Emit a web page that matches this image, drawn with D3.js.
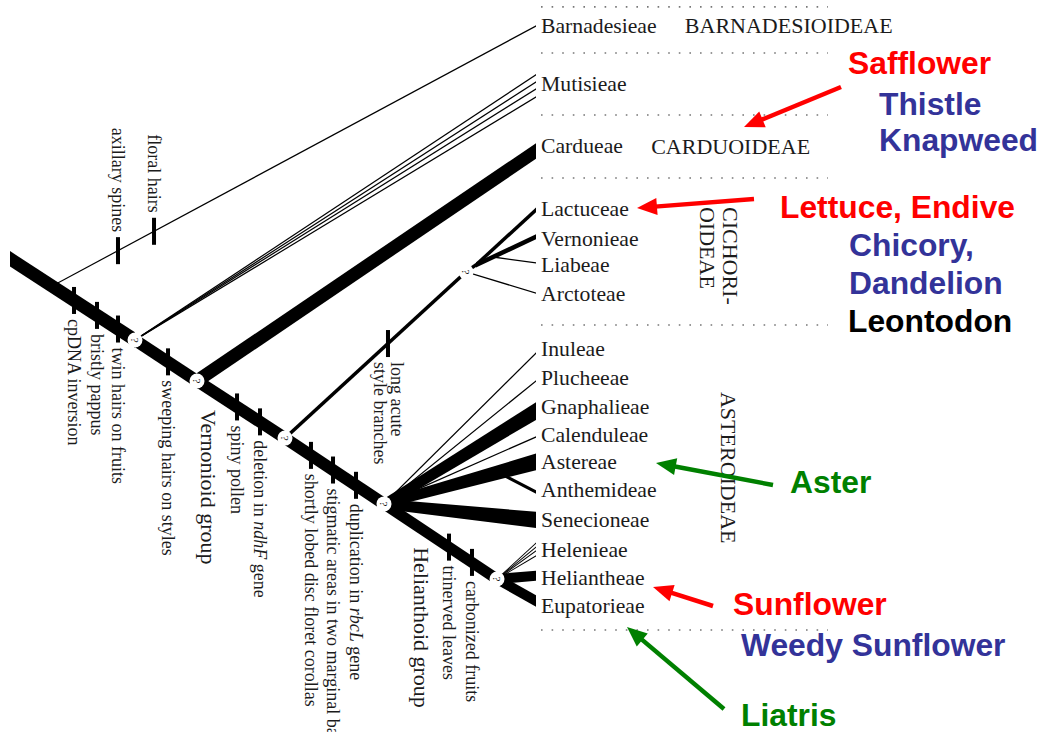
<!DOCTYPE html>
<html><head><meta charset="utf-8">
<script src="https://cdn.jsdelivr.net/npm/d3@7"></script>
<style>
html,body{margin:0;padding:0;background:#fff;}
svg{display:block;}
</style></head>
<body><svg id="chart" width="1040" height="732"></svg>
<script>
// ================= DATA =================
// Terminal tribes (top to bottom) and their row positions
const tribes = ["Barnadesieae","Mutisieae","Cardueae","Lactuceae","Vernonieae","Liabeae","Arctoteae",
  "Inuleae","Plucheeae","Gnaphalieae","Calenduleae","Astereae","Anthemideae","Senecioneae",
  "Helenieae","Heliantheae","Eupatorieae"];
const tribeRows = [0,2.0,4.14,6.31,7.34,8.24,9.24,11.14,12.14,13.14,14.1,15.03,16.0,17.03,18.07,19.03,20.0];
const tribeDepth = 100;

// Internal nodes (depth along the tree, row)
const nodeIds   = ["root","Nb","N1","N2","N3","N4","N5","Ncq","Nc","Nvl","Naa"];
const nodeDepth = [0, 7.98, 23.76, 35.55, 52.28, 71.10, 92.59, 86.69, 88.59, 91.83, 92.78];
const nodeRow   = [8.03, 8.97, 10.83, 12.24, 14.21, 16.48, 19.07, 8.48, 8.24, 7.965, 15.39];
const uncertainNodes = ["N1","N2","N3","N4","N5","Ncq"];   // nodes marked "?"

// Branches: [from, to, weight at start, weight at end, row offset of tip end]
const edges = [
  ["root","N1",13,13,0], ["N1","N2",12,12,0], ["N2","N3",12,12,0], ["N3","N4",12,12,0], ["N4","N5",11,11,0],
  ["Nb","Barnadesieae",1.2,1.2,0],
  ["N1","Mutisieae",1.2,1.2,-0.32], ["N1","Mutisieae",1.2,1.2,-0.07],
  ["N1","Mutisieae",1.2,1.2,0.17],  ["N1","Mutisieae",1.2,1.2,0.45],
  ["N2","Cardueae",13,13,0.17],
  ["N3","Ncq",3.5,3.5,0], ["Ncq","Nc",3.5,3.5,0],
  ["Nc","Lactuceae",3.5,3.5,0.03], ["Nc","Vernonieae",4.5,4.5,-0.07],
  ["Nvl","Liabeae",1.3,1.3,-0.07], ["Ncq","Arctoteae",1.3,1.3,-0.03],
  ["N4","Inuleae",1.2,1.2,0.14], ["N4","Plucheeae",1.2,1.2,0.1],
  ["N4","Gnaphalieae",9,15,0.14], ["N4","Calenduleae",1.3,1.3,0.07],
  ["N4","Astereae",9,16,0], ["Naa","Anthemideae",3,3,0.07], ["N4","Senecioneae",10,16,0],
  ["N5","Helenieae",1,1,-0.24], ["N5","Helenieae",1,1,-0.1], ["N5","Helenieae",1,1,0.03], ["N5","Helenieae",1,1,0.2],
  ["N5","Heliantheae",10,10,-0.07], ["N5","Eupatorieae",10,10,-0.17]
];

// Character changes (synapomorphies) on branches
const characters = ["cpDNA inversion","bristly pappus","twin hairs on fruits","sweeping hairs on styles",
  "spiny pollen","deletion in _ndhF_ gene","shortly lobed disc floret corollas",
  "stigmatic areas in two marginal bands","duplication in _rbcL_ gene","trinerved leaves","carbonized fruits",
  "long acute|style branches","axillary spines","floral hairs"];
const characterEdge = [["root","N1"],["root","N1"],["root","N1"],["N1","N2"],["N2","N3"],["N2","N3"],
  ["N3","N4"],["N3","N4"],["N3","N4"],["N4","N5"],["N4","N5"],["N3","Ncq"],["Nb","Barnadesieae"],["Nb","Barnadesieae"]];
const characterDepth = [12.17,16.54,20.53,30.04,43.16,47.53,57.22,61.41,65.78,83.46,87.83,71.86,20.53,27.38];
const characterSide = ["below","below","below","below","below","below","below","below","below","below","below","below","above","above"];

// Informal groups
const groups = ["Vernonioid group","Helianthoid group"];
const groupDepth = [37.64, 78.14];
const groupRow = [13.24, 17.97];

// Subfamilies and separators
const subfamilies = ["BARNADESIOIDEAE","CARDUOIDEAE","CICHORI-|OIDEAE","ASTEROIDEAE"];
const subfamilyBreaks = [-0.66, 0.93, 3.07, 5.24, 10.31, 20.83];

// Common names of related plants
const commonNames = ["Safflower","Thistle","Knapweed","Lettuce, Endive","Chicory,","Dandelion","Leontodon",
  "Aster","Sunflower","Weedy Sunflower","Liatris"];
const commonKind = ["crop","weed","weed","crop","weed","weed","other","ornamental","crop","weed","ornamental"];
const arrowNames = ["Safflower","Lettuce, Endive","Aster","Sunflower","Liatris"];

// ================= LAYOUT / STYLE =================
const W = 1040, H = 732;
const x = d3.scaleLinear().domain([0,100]).range([10,536]);
const y = d3.scaleLinear().domain([0,20]).range([26,606]);
const serif = "'Liberation Serif','Times New Roman',serif";
const sans = "'Liberation Sans',Arial,sans-serif";
const ink = "#1b1b1b";
const kindColor = {crop:"#ff0000", weed:"#333399", other:"#000000", ornamental:"#008000"};
const namePos = { // baseline positions in px
  "Safflower":[848,74], "Thistle":[879,115], "Knapweed":[879,151], "Lettuce, Endive":[780,218],
  "Chicory,":[849,256], "Dandelion":[849,294], "Leontodon":[848,332], "Aster":[790,493],
  "Sunflower":[733,615], "Weedy Sunflower":[741,656], "Liatris":[741,726]};
const arrowPos = { // [tailX, tailY, tipX, tipY]
  "Safflower":[841,87,744,127], "Lettuce, Endive":[754,199,637,208], "Aster":[773,485,656,463],
  "Sunflower":[713,606,653,587], "Liatris":[724,709,627,627]};
const subfamilyLayout = [
  {depth:128.3, row:0, rot:false}, {depth:121.9, row:4.14, rot:false},
  {depth:134.7, row:6.24, rot:true}, {depth:136.5, row:12.62, rot:true}];

const svg = d3.select("#chart");
svg.append("rect").attr("width",W).attr("height",H).attr("fill","#fff");

function pos(id){
  const i = nodeIds.indexOf(id);
  if (i >= 0) return [nodeDepth[i], nodeRow[i]];
  return [tribeDepth, tribeRows[tribes.indexOf(id)]];
}
const line = d3.line();
function wedge(x0,y0,x1,y1,w0,w1){
  const dx = x1-x0, dy = y1-y0, L = Math.hypot(dx,dy);
  const k = L/Math.abs(dx);
  const h0 = w0/2*k, h1 = w1/2*k;
  return line([[x0,y0-h0],[x1,y1-h1],[x1,y1+h1],[x0,y0+h0]]) + "Z";
}

// separators
const gSep = svg.append("g");
subfamilyBreaks.forEach(r => {
  gSep.append("line").attr("x1", x(tribeDepth)+5).attr("x2", 828)
    .attr("y1", y(r)).attr("y2", y(r))
    .attr("stroke","#777").attr("stroke-width",1.6).attr("stroke-dasharray","1.6 9");
});

// branches
const gEdges = svg.append("g");
edges.forEach(([f,t,w0,w1,s]) => {
  const [d0,r0] = pos(f); let [d1,r1] = pos(t);
  if (nodeIds.indexOf(t) < 0) r1 += s;
  gEdges.append("path").attr("d", wedge(x(d0),y(r0),x(d1),y(r1),w0,w1)).attr("fill","#000");
});

// character ticks
function rowOnEdge(f,t,d){
  const [d0,r0] = pos(f); let [d1,r1] = pos(t);
  const e = edges.find(e => e[0]===f && e[1]===t);
  if (e && nodeIds.indexOf(t) < 0) r1 += e[4];
  return r0 + (d-d0)/(d1-d0)*(r1-r0);
}
function addRichText(sel, str){
  str.split("_").forEach((part,i) => {
    if (!part) return;
    sel.append("tspan").attr("font-style", i%2 ? "italic" : "normal").text(part);
  });
}
const gTicks = svg.append("g");
characters.forEach((c,i) => {
  const [f,t] = characterEdge[i];
  const px = x(characterDepth[i]), py = y(rowOnEdge(f,t,characterDepth[i]));
  gTicks.append("rect").attr("x",px-2).attr("y",py-13.5).attr("width",4).attr("height",27).attr("fill","#000");
  const lines = c.split("|");
  const below = characterSide[i] === "below";
  const y0 = below ? py+13.5+5 : py-13.5-5;
  lines.forEach((ln,j) => {
    const off = (j-(lines.length-1)/2)*17;
    const tx = gTicks.append("text")
      .attr("transform",`translate(${px},${y0}) rotate(90)`)
      .attr("y", off).attr("dy","0.32em")
      .attr("text-anchor", below ? "start" : "end")
      .attr("font-family",serif).attr("font-size",18).attr("fill",ink);
    addRichText(tx, ln);
  });
});

// group labels
groups.forEach((g,i) => {
  svg.append("text").attr("transform",`translate(${x(groupDepth[i])},${y(groupRow[i])}) rotate(90)`)
    .attr("dy","0.32em").attr("font-family",serif).attr("font-size",22).attr("fill",ink).text(g);
});

// "?" marks on uncertain nodes
const gQ = svg.append("g");
uncertainNodes.forEach(id => {
  const [d,r] = pos(id);
  gQ.append("circle").attr("cx",x(d)).attr("cy",y(r)).attr("r",7.5).attr("fill","#fff");
  gQ.append("text").attr("transform",`translate(${x(d)},${y(r)}) rotate(90)`)
    .attr("text-anchor","middle").attr("dy","0.35em")
    .attr("font-family",serif).attr("font-size",11).attr("fill",ink).text("?");
});

// tribe labels
svg.append("g").selectAll("text").data(tribes).join("text")
  .attr("x", x(tribeDepth)+5).attr("y",(d,i)=>y(tribeRows[i])).attr("dy","0.34em")
  .attr("font-family",serif).attr("font-size",21.7).attr("fill",ink).text(d=>d);

// subfamily labels
subfamilies.forEach((s,i) => {
  const L = subfamilyLayout[i];
  if (!L.rot) {
    svg.append("text").attr("x",x(L.depth)).attr("y",y(L.row)).attr("dy","0.34em")
      .attr("font-family",serif).attr("font-size",22).attr("fill",ink).text(s);
  } else {
    const lines = s.split("|");
    lines.forEach((ln,j) => {
      svg.append("text").attr("transform",`translate(${x(L.depth)},${y(L.row)}) rotate(90)`)
        .attr("y",(j-(lines.length-1)/2)*23).attr("dy","0.34em")
        .attr("font-family",serif).attr("font-size",22).attr("fill",ink).text(ln);
    });
  }
});

// common names
commonNames.forEach((n,i) => {
  const [px,py] = namePos[n];
  svg.append("text").attr("x",px).attr("y",py).attr("font-family",sans).attr("font-weight","bold")
    .attr("font-size",31.8).attr("fill",kindColor[commonKind[i]]).text(n);
});

// arrows
arrowNames.forEach(n => {
  const [x0,y0,x1,y1] = arrowPos[n];
  const col = kindColor[commonKind[commonNames.indexOf(n)]];
  const dx = x1-x0, dy = y1-y0, L = Math.hypot(dx,dy), ux = dx/L, uy = dy/L;
  const hl = 20, hw = 8.5;
  const bx = x1-ux*hl, by = y1-uy*hl;
  svg.append("line").attr("x1",x0).attr("y1",y0).attr("x2",bx+ux*2).attr("y2",by+uy*2)
    .attr("stroke",col).attr("stroke-width",4.5);
  svg.append("path").attr("d", line([[x1,y1],[bx-uy*hw,by+ux*hw],[bx+uy*hw,by-ux*hw]])+"Z").attr("fill",col);
});
</script>
</body></html>
